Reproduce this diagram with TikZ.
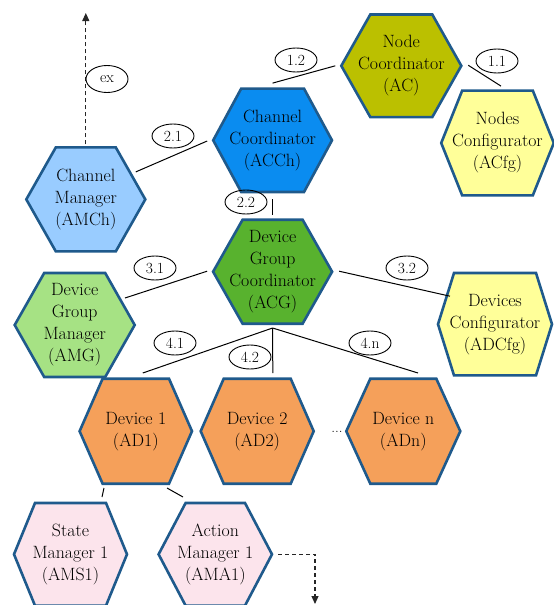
\documentclass[tikz,border=0pt]{standalone}
\usetikzlibrary{calc,arrows.meta,shapes.geometric}

\definecolor{hexedge}{HTML}{1F5A8C}
\definecolor{cNode}{HTML}{BBC000}
\definecolor{cConf}{HTML}{FFFF99}
\definecolor{cChCoord}{HTML}{0A8CF0}
\definecolor{cChMgr}{HTML}{99CCFF}
\definecolor{cGrpCoord}{HTML}{58B22E}
\definecolor{cGrpMgr}{HTML}{A6E284}
\definecolor{cDevice}{HTML}{F5A05A}
\definecolor{cSub}{HTML}{FCE4EC}

\tikzset{
  hexborder/.style={draw=hexedge, line width=2.6pt, line join=miter},
  hextext/.style={shape=rectangle, draw=none, inner sep=0pt, outer sep=0pt,
    align=center, font=\rmfamily\fontsize{17.8}{22}\selectfont},
  link/.style={draw=black, line width=1pt},
  tag/.style={ellipse, draw=black, line width=0.9pt, inner sep=0pt,
    minimum width=42pt, minimum height=24pt, font=\rmfamily\fontsize{15.5}{17}\selectfont},
  flow/.style={draw=black!85, line width=1.1pt, dash pattern=on 4pt off 3pt,
    -{Triangle[length=8pt,width=7pt]}}
}

% name, x, y, half width, half height, corner inset, fill, text
\newcommand{\hexcell}[8]{%
  \draw[hexborder, fill=#7] (#2-#4,#3) -- (#2-#4+#6,#3-#5) -- (#2+#4-#6,#3-#5)
    -- (#2+#4,#3) -- (#2+#4-#6,#3+#5) -- (#2-#4+#6,#3+#5) -- cycle;
  \node[hextext, minimum width=2*#4pt, minimum height=2*#5pt] (#1) at (#2,#3) {#8};}

\begin{document}
\begin{tikzpicture}[x=1pt,y=-1pt]
\useasboundingbox (0,0) rectangle (554,605);

% hexagonal agents
\hexcell{AC}{401.3}{65.8}{60}{51.3}{29}{cNode}{Node\\Coordinator\\(AC)}
\hexcell{ACfg}{497.5}{143}{56.3}{52.4}{21}{cConf}{Nodes\\Configurator\\(ACfg)}
\hexcell{ACCh}{272.6}{140.3}{59.4}{51.7}{28}{cChCoord}{Channel\\Coordinator\\(ACCh)}
\hexcell{AMCh}{85.8}{199.4}{59.5}{52}{29.5}{cChMgr}{Channel\\Manager\\(AMCh)}
\hexcell{ACG}{272.6}{271.7}{59.5}{52}{29.5}{cGrpCoord}{Device\\Group\\Coordinator\\(ACG)}
\hexcell{AMG}{74.7}{325}{60}{52}{29.5}{cGrpMgr}{Device\\Group\\Manager\\(AMG)}
\hexcell{ADCfg}{495}{324.2}{57}{51.2}{16}{cConf}{Devices\\Configurator\\(ADCfg)}
\hexcell{AD1}{135.8}{431.2}{56.2}{52.5}{23}{cDevice}{Device 1\\(AD1)}
\hexcell{AD2}{257.2}{431.2}{56.5}{52.5}{23}{cDevice}{Device 2\\(AD2)}
\hexcell{ADn}{403.3}{431.2}{57}{52.5}{24}{cDevice}{Device n\\(ADn)}
\hexcell{AMS1}{70.5}{554.3}{56.5}{51.3}{21}{cSub}{State\\Manager 1\\(AMS1)}
\hexcell{AMA1}{215.3}{554.3}{56.7}{51.3}{27}{cSub}{Action\\Manager 1\\(AMA1)}

\node[font=\rmfamily\fontsize{15}{16}\selectfont] (dots) at (337,432) {...};

% links between agents
\draw[link] ($(ACCh.north)+(0,-5.5)$) -- ($(AC.west)+(-6,0)$);
\draw[link] ($(AC.east)+(7,-0.5)$) -- ($(ACfg.north)+(3.5,-4.5)$);
\draw[link] ($(AMCh.center)+(50,-27.5)$) -- ($(ACCh.west)+(-6,0.7)$);
\draw[link] ($(ACCh.south)+(0,7)$) -- ($(ACG.north)+(0,-4.5)$);
\draw[link] ($(AMG.center)+(50.3,-27)$) -- ($(ACG.west)+(-6,-0.5)$);
\draw[link] ($(ACG.east)+(7,-0.5)$) -- ($(ADCfg.center)+(-45,-28)$);
\draw[link] ($(ACG.south)+(0,4.3)$) -- ($(AD1.north)+(7,-5.7)$);
\draw[link] ($(ACG.south)+(0,4.3)$) -- ($(AD2.north)+(15.6,-5.7)$);
\draw[link] ($(ACG.south)+(0,4.3)$) -- ($(ADn.north)+(14.7,-5.7)$);
\draw[link] ($(AD1.south)+(-31.8,4.3)$) -- ($(AMS1.north)+(31.5,-6)$);
\draw[link] ($(AD1.south)+(31.2,4.3)$) -- ($(AMA1.north)+(-32.3,-6)$);

% link labels
\node[tag] (t12) at (296,60) {1.2};
\node[tag] (t11) at (497,61) {1.1};
\node[tag] (t21) at (173,136) {2.1};
\node[tag] (t22) at (246,202) {2.2};
\node[tag] (t31) at (155,268) {3.1};
\node[tag] (t32) at (407,268) {3.2};
\node[tag] (t41) at (175,343) {4.1};
\node[tag] (t42) at (250,357) {4.2};
\node[tag] (t4n) at (370,343) {4.n};

% outgoing flows
\coordinate (exTop) at (85.8,13);
\draw[flow] ($(AMCh.north)+(0,-3)$) -- (exTop);
\node[tag, minimum height=27pt] (tex) at (107,79) {ex};

\coordinate (amaEnd) at (315,604);
\draw[flow] ($(AMA1.east)+(6,0)$) -| (amaEnd);
\end{tikzpicture}
\end{document}
